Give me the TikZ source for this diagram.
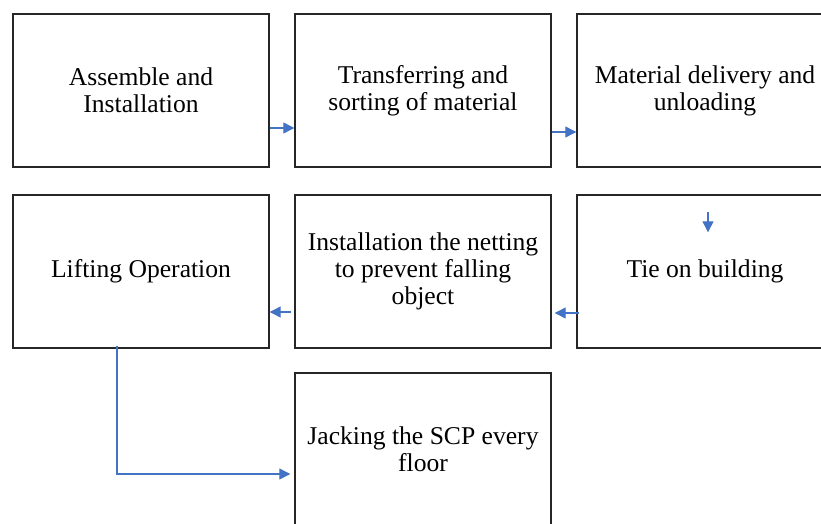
\documentclass[tikz,border=0pt]{standalone}
\usepackage{fontspec}
\setmainfont{Liberation Serif}
\usetikzlibrary{arrows.meta}
\definecolor{flowBlue}{RGB}{68,114,196}
\definecolor{boxGray}{RGB}{38,38,38}

\begin{document}
\begin{tikzpicture}[x=1pt,y=-1pt,
    stage/.style={draw=boxGray,line width=1.4pt,minimum width=256pt,minimum height=153pt,
      inner sep=0pt,align=center,font=\fontsize{25.6}{27}\selectfont},
    flow/.style={-{Triangle[length=11pt,width=11pt]},flowBlue,line width=1.2pt}]
    \useasboundingbox (0,0) rectangle (821,524);
    % top row
    \node[stage] (assemble) at (141,90.5) {Assemble and\\Installation};
    \node[stage] (transfer) at (423,90.5) {Transferring and\\sorting of material};
    \node[stage] (delivery) at (705,90.5) {Material delivery and\\unloading};
    % middle row
    \node[stage] (lifting) at (141,271.5) {Lifting Operation};
    \node[stage] (netting) at (423,271.5) {Installation the netting\\to prevent falling\\object};
    \node[stage] (tie) at (705,271.5) {Tie on building};
    % bottom
    \node[stage] (jacking) at (423,449.5) {Jacking the SCP every\\floor};
    \draw[flow] ([yshift=-37.5pt]assemble.east) -- ([yshift=-37.5pt]transfer.west);
    \draw[flow] ([yshift=-41.5pt]transfer.east) -- ([yshift=-41.5pt]delivery.west);
    \draw[flow] ([xshift=3pt,yshift=-18pt]tie.north) -- ([xshift=3pt,yshift=-38pt]tie.north);
    \draw[flow] ([xshift=3pt,yshift=-41.5pt]tie.west) -- ([xshift=3pt,yshift=-41.5pt]netting.east);
    \draw[flow] ([xshift=-3pt,yshift=-40.5pt]netting.west) -- ([yshift=-40.5pt]lifting.east);
    \draw[flow] ([xshift=-24pt,yshift=3pt]lifting.south) |- ([xshift=-4pt,yshift=-24.5pt]jacking.west);
  \end{tikzpicture}
\end{document}
